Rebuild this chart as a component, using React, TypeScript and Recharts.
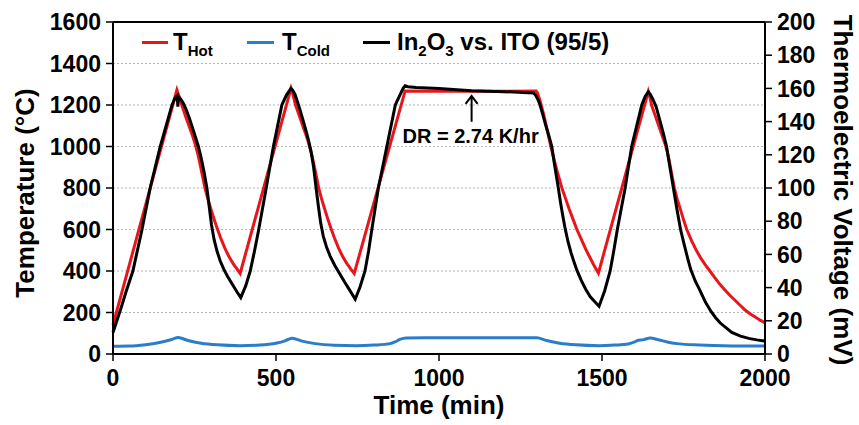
import { LineChart, Line, XAxis, YAxis, CartesianGrid, ReferenceLine, ReferenceDot, Legend } from 'recharts'

const FONT = 'Arial, "Liberation Sans", Helvetica, sans-serif'
const RED = '#e8151b'
const BLUE = '#2a7dc9'
const BLACK = '#000'

// [time (min), value] pairs

// T_hot (°C, left axis)
const hotCurve: [number, number][] = [
  [0, 140],
  [196, 1273], [203, 1240], [211, 1200], [222, 1148], [233, 1100], [244, 1052], [252, 1012], [260, 965], [268, 908], [275, 855],
  [282, 800], [290, 752], [300, 700], [310, 650], [319, 608], [330, 560], [343, 510], [356, 468], [368, 437], [380, 410], [390, 388],
  [546, 1280], [552, 1250], [560, 1200], [571, 1150], [582, 1100], [593, 1052], [601, 1012], [609, 965], [617, 908], [624, 855],
  [631, 800], [639, 752], [649, 700], [659, 650], [668, 608], [679, 560], [692, 510], [705, 468], [717, 437], [729, 410], [740, 388],
  [896, 1268], [1000, 1266], [1100, 1266], [1200, 1266], [1298, 1268],
  [1302, 1258], [1306, 1240], [1311, 1215], [1316, 1185], [1322, 1148], [1329, 1100], [1336, 1050], [1343, 1000], [1351, 950],
  [1359, 900], [1368, 850], [1377, 800], [1388, 750], [1399, 700], [1411, 650], [1423, 600], [1436, 555], [1450, 505], [1463, 465],
  [1476, 425], [1489, 390],
  [1642, 1265], [1647, 1238], [1652, 1200], [1663, 1150], [1674, 1100], [1685, 1050], [1693, 1015], [1700, 975], [1707, 925],
  [1714, 865], [1722, 800], [1731, 745], [1742, 690], [1751, 643], [1760, 600], [1775, 545], [1790, 497], [1805, 457], [1818, 427],
  [1831, 400], [1846, 368], [1861, 337], [1877, 309], [1892, 283], [1908, 259], [1923, 236], [1939, 212], [1954, 194], [1970, 178],
  [1985, 163], [2000, 150],
]

// T_cold (°C, left axis)
const coldCurve: [number, number][] = [
  [0, 37], [50, 38], [100, 45], [150, 58], [180, 70], [200, 79], [230, 65], [270, 52], [320, 44], [390, 40],
  [450, 43], [500, 52], [525, 62], [537, 70], [550, 76], [580, 62], [620, 50], [680, 42], [745, 40], [800, 43],
  [850, 50], [865, 58], [880, 70], [900, 77], [960, 78], [1300, 78], [1330, 65], [1370, 52], [1420, 44], [1490, 40],
  [1540, 43], [1580, 48], [1600, 58], [1612, 66], [1625, 68], [1648, 77], [1670, 70], [1700, 58], [1730, 50], [1800, 43],
  [1900, 39], [2000, 38],
]

// In2O3 vs. ITO (95/5) thermoelectric voltage (mV, right axis)
const voltCurve: [number, number][] = [
  [0, 13], [10, 19], [22, 26], [40, 37.5], [61, 50], [89, 75], [114, 100], [145, 125], [181, 150], [190, 154], [197, 155.5],
  [199, 149], [201, 155], [208, 153.5], [216, 151], [225, 147], [235, 141.5], [245, 135.5], [254, 130], [262, 125], [270, 118.5],
  [279, 110], [288, 100], [295, 89], [302, 78], [310, 69], [319, 62], [329, 56], [340, 51], [352, 46.5], [366, 42], [380, 37.5], [392, 34],
  [407, 41], [421, 50], [434, 62], [447, 75], [470, 100], [492, 125], [518, 150], [532, 156], [546, 160],
  [551, 159], [558, 156.5], [565, 152.5], [573, 147.5], [582, 141.5], [592, 134.5], [600, 128.5], [608, 121.5], [615, 113], [623, 100],
  [630, 89], [637, 79], [645, 71], [655, 64.5], [666, 59], [680, 53.5], [695, 48.5], [710, 43.5], [726, 38.5], [743, 33],
  [758, 40.5], [773, 50], [784, 62], [794, 75], [814, 100], [840, 125], [866, 150], [880, 156], [890, 160], [896, 161.6],
  [905, 161], [930, 160.5], [1000, 160], [1100, 158.6], [1200, 158], [1290, 157.3],
  [1296, 156], [1303, 153.5], [1310, 150], [1318, 144.5], [1327, 138], [1337, 131.5], [1346, 125], [1352, 117], [1359, 108.5],
  [1366, 100], [1373, 91], [1380, 83], [1387, 75.5], [1396, 67.5], [1405, 61], [1414, 55.5], [1423, 50.5], [1436, 44.5], [1450, 39],
  [1464, 34.5], [1478, 31.5], [1491, 28.8],
  [1508, 38], [1525, 50], [1536, 62], [1547, 75], [1571, 100], [1591, 125], [1622, 150], [1632, 155], [1642, 158],
  [1648, 156.5], [1656, 153.5], [1666, 149], [1677, 141], [1688, 133], [1698, 125], [1708, 113], [1719, 100], [1730, 87], [1741, 75],
  [1752, 66], [1763, 57.5], [1772, 51], [1786, 44], [1800, 38.5], [1818, 31], [1835, 25.5], [1848, 22], [1862, 18.8], [1898, 13],
  [1925, 10.8], [1950, 9.4], [1975, 8.5], [2000, 7.8],
]

const timeTicks = [0, 500, 1000, 1500, 2000]
const tempTicks = [0, 200, 400, 600, 800, 1000, 1200, 1400, 1600]
const voltTicks = [0, 20, 40, 60, 80, 100, 120, 140, 160, 180, 200]

const driftNote = { t: 1100, temp: 1249, text: 'DR = 2.74 K/hr' }

const toRows = (c: [number, number][]) => c.map(([t, v]) => ({ t, v }))

const tickStyle = { fill: '#000', fontSize: 23, fontWeight: 700, fontFamily: FONT }
const axisLine = { stroke: '#000', strokeWidth: 2 }
const tickLine = { stroke: '#000', strokeWidth: 1.5 }
const titleStyle = { fontFamily: FONT, fontWeight: 700, fontSize: 26, fill: '#000' }

function LegendBox() {
  const txt = { fontFamily: FONT, fontWeight: 700, fontSize: 24, fill: '#000' }
  return (
    <svg width={500} height={40} style={{ display: 'block' }}>
      <line x1={12} x2={38} y1={17.5} y2={17.5} stroke={RED} strokeWidth={3} />
      <text x={43} y={25} {...txt}>T<tspan fontSize={15} dy={5.5}>Hot</tspan></text>
      <line x1={117} x2={144} y1={17.5} y2={17.5} stroke={BLUE} strokeWidth={3} />
      <text x={152} y={25} {...txt}>T<tspan fontSize={15} dy={5.5}>Cold</tspan></text>
      <line x1={233} x2={260} y1={17.5} y2={17.5} stroke={BLACK} strokeWidth={3} />
      <text x={267} y={25} {...txt}>
        In<tspan fontSize={15} dy={5.5}>2</tspan><tspan dy={-5.5}>O</tspan><tspan fontSize={15} dy={5.5}>3</tspan><tspan dy={-5.5}> vs. ITO (95/5)</tspan>
      </text>
    </svg>
  )
}

function DriftArrow(p: any) {
  const { cx, cy } = p
  return (
    <g>
      <path d={`M${cx},${cy + 27} V${cy + 1} M${cx - 6},${cy + 9} L${cx},${cy + 1} L${cx + 6},${cy + 9}`} stroke="#000" strokeWidth={2} fill="none" />
      <text x={cx - 1} y={cy + 48} textAnchor="middle" fontFamily={FONT} fontWeight={700} fontSize={20} fill="#000">{driftNote.text}</text>
    </g>
  )
}

export default function App() {
  return (
    <div style={{ width: 859, height: 425, background: '#fff', position: 'relative' }}>
      <style>{'body{margin:0}'}</style>
      <LineChart width={859} height={425} margin={{ top: 22, right: 0, bottom: 0, left: 0 }}>
        <CartesianGrid yAxisId="left" vertical={false} stroke="#b4b4b4" strokeDasharray="2 2" />
        <XAxis
          type="number"
          dataKey="t"
          domain={[0, 2000]}
          ticks={timeTicks}
          height={71}
          tick={tickStyle}
          axisLine={axisLine}
          tickLine={tickLine}
          tickSize={7}
          tickMargin={9}
          label={{
            content: (props: any) => {
              const vb = props.viewBox
              return <text x={vb.x + vb.width / 2} y={vb.y + 60} textAnchor="middle" {...titleStyle}>Time (min)</text>
            },
          }}
        />
        <YAxis
          yAxisId="left"
          domain={[0, 1600]}
          ticks={tempTicks}
          width={113}
          tick={tickStyle}
          axisLine={axisLine}
          tickLine={tickLine}
          tickSize={7}
          tickMargin={5}
          label={{
            content: (props: any) => {
              const vb = props.viewBox
              const x = vb.x + 34
              const y = vb.y + vb.height / 2 + 5
              return <text x={x} y={y} transform={`rotate(-90 ${x} ${y})`} textAnchor="middle" {...titleStyle}>Temperature (°C)</text>
            },
          }}
        />
        <YAxis
          yAxisId="right"
          orientation="right"
          domain={[0, 200]}
          ticks={voltTicks}
          width={94}
          tick={tickStyle}
          axisLine={axisLine}
          tickLine={tickLine}
          tickSize={7}
          tickMargin={5}
          label={{
            content: (props: any) => {
              const vb = props.viewBox
              const x = vb.x + 69
              const y = vb.y + vb.height / 2 + 2
              return <text x={x} y={y} transform={`rotate(90 ${x} ${y})`} textAnchor="middle" {...titleStyle}>Thermoelectric Voltage (mV)</text>
            },
          }}
        />
        <ReferenceLine yAxisId="left" y={1600} stroke="#000" strokeWidth={2} />
        <Line yAxisId="left" data={toRows(hotCurve)} dataKey="v" stroke={RED} strokeWidth={3} dot={false} type="linear" isAnimationActive={false} />
        <Line yAxisId="left" data={toRows(coldCurve)} dataKey="v" stroke={BLUE} strokeWidth={3} dot={false} type="monotone" isAnimationActive={false} />
        <Line yAxisId="right" data={toRows(voltCurve)} dataKey="v" stroke={BLACK} strokeWidth={3} dot={false} type="linear" isAnimationActive={false} />
        <ReferenceDot yAxisId="left" x={driftNote.t} y={driftNote.temp} shape={DriftArrow} />
        <Legend
          layout="vertical"
          align="center"
          verticalAlign="middle"
          wrapperStyle={{ top: 25, left: 130, width: 500, height: 40 }}
          content={() => <LegendBox />}
        />
      </LineChart>
    </div>
  )
}
